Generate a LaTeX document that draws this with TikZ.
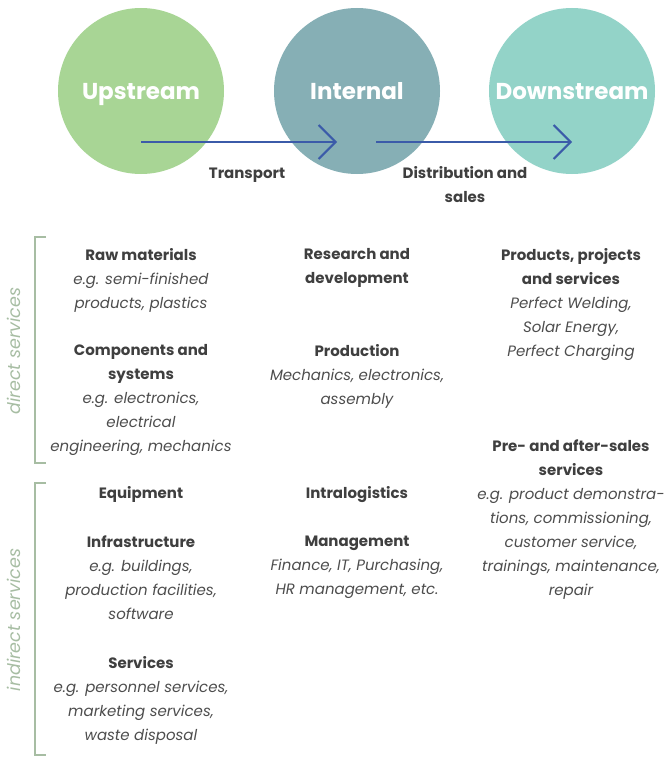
\documentclass[tikz,border=0pt]{standalone}
\usepackage{fontspec}
\setmainfont{Poppins}
\usetikzlibrary{arrows.meta}
\usetikzlibrary{positioning}
\usetikzlibrary{calc}

\definecolor{upgreen}{HTML}{A8D595}
\definecolor{intteal}{HTML}{86AFB5}
\definecolor{downteal}{HTML}{93D3C8}
\definecolor{flowblue}{HTML}{3B5BA9}
\definecolor{txtgray}{HTML}{3F3F3F}
\definecolor{descgray}{HTML}{4D4D4D}
\definecolor{brackgreen}{HTML}{A7BDA3}

\newcommand{\desctext}[1]{{\color{descgray}\itshape #1}}

\begin{document}
\begin{tikzpicture}[x=1pt, y=-1pt,
                stage/.style={circle, minimum size=166pt, inner sep=0pt,
                        text depth=0pt, text=white,
                        font=\fontsize{23}{27}\selectfont\bfseries},
                flow/.style={-{Straight Barb[length=17pt, width=34pt]},
                        line width=2pt, draw=flowblue},
                flowlabel/.style={align=center, text=txtgray,
                        font=\fontsize{15}{24}\selectfont\bfseries},
                block/.style={anchor=north, inner sep=0pt, align=center,
                        text=txtgray, font=\fontsize{15}{24}\selectfont,
                        execute at begin node=\strut},
                bracket/.style={draw=brackgreen, line width=2.5pt},
                side/.style={rotate=90, text=brackgreen,
                        font=\fontsize{17.5}{20}\selectfont\itshape},
            ]
            \useasboundingbox (0,0) rectangle (671,757);

            % value chain stages
            \node[stage, fill=upgreen] (upstream) at (141,91) {Upstream};
            \node[stage, fill=intteal] (internal) at (357,91) {Internal};
            \node[stage, fill=downteal] (downstream) at (572,91) {Downstream};

            \draw[flow] ([yshift=-51pt]upstream.center) -- ([xshift=-20pt, yshift=-51pt]internal.center);
            \draw[flow] ([xshift=19pt, yshift=-51pt]internal.center) -- ([yshift=-51pt]downstream.center);

            \node[flowlabel] (transport) at (247,175) {Transport};
            \node[flowlabel] (distribution) at (465,185) {Distribution and\\sales};

            % upstream column
            \node[block] (raw_mat) at (141,248) {\textbf{Raw materials}\\
                \desctext{e.g. semi-finished}\\ \desctext{products, plastics}};
            \node[block] (comp_sys) at (141,344) {\textbf{Components and}\\ \textbf{systems}\\
                \desctext{e.g. electronics,}\\ \desctext{electrical}\\ \desctext{engineering, mechanics}};
            \node[block] (equipment) at (141,481) {\textbf{Equipment}};
            \node[block] (infra) at (141,536) {\textbf{Infrastructure}\\
                \desctext{e.g. buildings,}\\ \desctext{production facilities,}\\ \desctext{software}};
            \node[block] (services) at (141,656) {\textbf{Services}\\
                \desctext{e.g. personnel services,}\\ \desctext{marketing services,}\\ \desctext{waste disposal}};

            % internal column
            \node[block] (research) at (357,248) {\textbf{Research and}\\ \textbf{development}};
            \node[block] (production) at (357,344) {\textbf{Production}\\
                \desctext{Mechanics, electronics,}\\ \desctext{assembly}};
            \node[block] (intralog) at (357,481) {\textbf{Intralogistics}};
            \node[block] (management) at (357,536) {\textbf{Management}\\
                \desctext{Finance, IT, Purchasing,}\\ \desctext{HR management, etc.}};

            % downstream column
            \node[block] (products) at (571,248) {\textbf{Products, projects}\\ \textbf{and services}\\
                \desctext{Perfect Welding,}\\ \desctext{Solar Energy,}\\ \desctext{Perfect Charging}};
            \node[block] (presales) at (571,440) {\textbf{Pre- and after-sales}\\ \textbf{services}\\
                \desctext{e.g. product demonstra-}\\ \desctext{tions, commissioning,}\\
                \desctext{customer service,}\\ \desctext{trainings, maintenance,}\\ \desctext{repair}};

            % service brackets
            \draw[bracket] (46,237) -| (35,463) -- (46,463);
            \draw[bracket] (46,483) -| (35,755) -- (46,755);
            \node[side] (direct) at (14,351) {direct services};
            \node[side] (indirect) at (14,620) {indirect services};
        \end{tikzpicture}
\end{document}
